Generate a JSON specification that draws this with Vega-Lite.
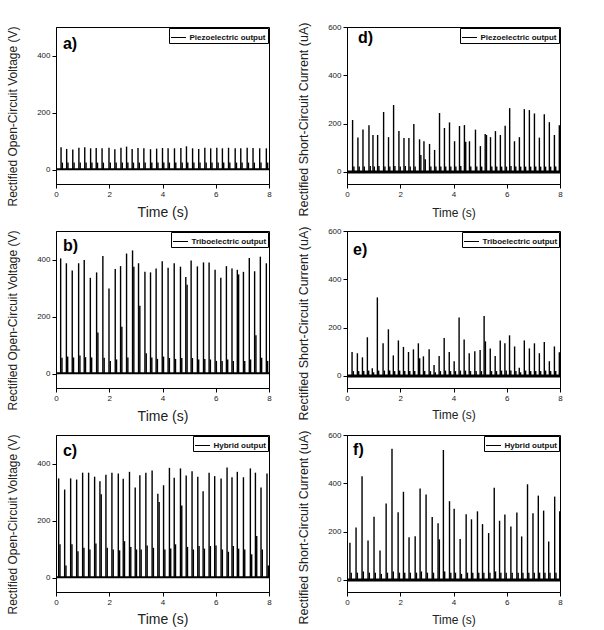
{
  "$schema": "https://vega.github.io/schema/vega-lite/v6.json",
  "background": "white",
  "padding": {"left": 5, "top": 21, "right": 5, "bottom": 0},
  "datasets": {
    "a": [
      {"t":0.19,"v":79,"s":25},{"t":0.40,"v":73,"s":25},{"t":0.63,"v":71,"s":25},{"t":0.86,"v":77,"s":25},{"t":1.08,"v":79,"s":25},{"t":1.30,"v":75,"s":25},{"t":1.51,"v":76,"s":25},{"t":1.73,"v":75,"s":25},{"t":1.99,"v":77,"s":25},{"t":2.21,"v":72,"s":25},{"t":2.44,"v":77,"s":25},{"t":2.65,"v":81,"s":25},{"t":2.86,"v":73,"s":25},{"t":3.08,"v":76,"s":25},{"t":3.30,"v":75,"s":25},{"t":3.55,"v":72,"s":25},{"t":3.78,"v":74,"s":25},{"t":4.00,"v":76,"s":25},{"t":4.21,"v":75,"s":25},{"t":4.45,"v":75,"s":25},{"t":4.69,"v":76,"s":25},{"t":4.90,"v":82,"s":25},{"t":5.13,"v":75,"s":25},{"t":5.36,"v":73,"s":25},{"t":5.59,"v":77,"s":25},{"t":5.81,"v":75,"s":25},{"t":6.04,"v":77,"s":25},{"t":6.25,"v":75,"s":25},{"t":6.48,"v":77,"s":25},{"t":6.73,"v":75,"s":25},{"t":6.94,"v":75,"s":25},{"t":7.18,"v":77,"s":25},{"t":7.40,"v":76,"s":25},{"t":7.65,"v":75,"s":25},{"t":7.90,"v":75,"s":25}
    ],
    "b": [
      {"t":0.175,"v":404,"s":56},{"t":0.39,"v":387,"s":60},{"t":0.61,"v":362,"s":57},{"t":0.85,"v":387,"s":64},{"t":1.06,"v":398,"s":58},{"t":1.29,"v":336,"s":57},{"t":1.525,"v":355,"s":144},{"t":1.76,"v":412,"s":56},{"t":1.99,"v":299,"s":45},{"t":2.225,"v":367,"s":50},{"t":2.425,"v":377,"s":165},{"t":2.65,"v":421,"s":57},{"t":2.875,"v":432,"s":375},{"t":3.10,"v":387,"s":238},{"t":3.34,"v":357,"s":72},{"t":3.55,"v":355,"s":57},{"t":3.76,"v":369,"s":52},{"t":3.99,"v":394,"s":60},{"t":4.21,"v":371,"s":55},{"t":4.44,"v":387,"s":52},{"t":4.675,"v":375,"s":55},{"t":4.875,"v":339,"s":312},{"t":5.075,"v":397,"s":55},{"t":5.31,"v":376,"s":50},{"t":5.54,"v":390,"s":52},{"t":5.75,"v":390,"s":50},{"t":5.975,"v":364,"s":45},{"t":6.19,"v":336,"s":45},{"t":6.40,"v":377,"s":50},{"t":6.61,"v":369,"s":45},{"t":6.81,"v":364,"s":348},{"t":7.04,"v":357,"s":45},{"t":7.26,"v":405,"s":50},{"t":7.46,"v":359,"s":135},{"t":7.675,"v":410,"s":56},{"t":7.90,"v":387,"s":45}
    ],
    "c": [
      {"t":0.10,"v":348,"s":117},{"t":0.325,"v":309,"s":43},{"t":0.55,"v":348,"s":117},{"t":0.775,"v":344,"s":93},{"t":1.00,"v":368,"s":105},{"t":1.225,"v":368,"s":99},{"t":1.45,"v":354,"s":120},{"t":1.65,"v":338,"s":292},{"t":1.875,"v":361,"s":105},{"t":2.10,"v":368,"s":99},{"t":2.34,"v":365,"s":96},{"t":2.525,"v":347,"s":128},{"t":2.76,"v":371,"s":108},{"t":2.975,"v":316,"s":99},{"t":3.15,"v":359,"s":99},{"t":3.375,"v":368,"s":113},{"t":3.61,"v":376,"s":105},{"t":3.825,"v":294,"s":265},{"t":4.04,"v":324,"s":99},{"t":4.26,"v":385,"s":102},{"t":4.44,"v":350,"s":117},{"t":4.675,"v":383,"s":253},{"t":4.89,"v":358,"s":108},{"t":5.11,"v":373,"s":99},{"t":5.325,"v":354,"s":111},{"t":5.525,"v":303,"s":102},{"t":5.75,"v":368,"s":111},{"t":5.96,"v":356,"s":113},{"t":6.20,"v":348,"s":99},{"t":6.425,"v":386,"s":91},{"t":6.61,"v":352,"s":111},{"t":6.81,"v":371,"s":102},{"t":7.04,"v":352,"s":99},{"t":7.30,"v":383,"s":82},{"t":7.49,"v":368,"s":146},{"t":7.70,"v":316,"s":99},{"t":7.925,"v":365,"s":43}
    ],
    "d": [
      {"t":0.21,"v":215,"s":22},{"t":0.41,"v":143,"s":22},{"t":0.60,"v":176,"s":22},{"t":0.825,"v":193,"s":25},{"t":0.975,"v":153,"s":22},{"t":1.15,"v":153,"s":25},{"t":1.375,"v":248,"s":22},{"t":1.56,"v":144,"s":22},{"t":1.75,"v":277,"s":25},{"t":1.95,"v":169,"s":22},{"t":2.14,"v":140,"s":25},{"t":2.325,"v":140,"s":22},{"t":2.51,"v":198,"s":22},{"t":2.725,"v":135,"s":70},{"t":2.89,"v":127,"s":52},{"t":3.10,"v":116,"s":22},{"t":3.29,"v":91,"s":22},{"t":3.475,"v":244,"s":22},{"t":3.66,"v":182,"s":22},{"t":3.85,"v":205,"s":22},{"t":4.04,"v":127,"s":22},{"t":4.225,"v":190,"s":25},{"t":4.41,"v":194,"s":125},{"t":4.60,"v":127,"s":22},{"t":4.825,"v":175,"s":22},{"t":5.01,"v":107,"s":22},{"t":5.19,"v":157,"s":153},{"t":5.39,"v":144,"s":22},{"t":5.575,"v":169,"s":22},{"t":5.76,"v":153,"s":22},{"t":5.94,"v":191,"s":22},{"t":6.11,"v":264,"s":25},{"t":6.29,"v":127,"s":22},{"t":6.475,"v":144,"s":22},{"t":6.66,"v":260,"s":22},{"t":6.85,"v":256,"s":22},{"t":7.04,"v":242,"s":22},{"t":7.225,"v":142,"s":22},{"t":7.41,"v":239,"s":22},{"t":7.60,"v":206,"s":22},{"t":7.79,"v":153,"s":22},{"t":7.975,"v":193,"s":22}
    ],
    "e": [
      {"t":0.19,"v":99,"s":20},{"t":0.39,"v":94,"s":20},{"t":0.58,"v":77,"s":20},{"t":0.765,"v":160,"s":22},{"t":0.95,"v":32,"s":15},{"t":1.14,"v":325,"s":22},{"t":1.355,"v":135,"s":22},{"t":1.555,"v":193,"s":22},{"t":1.74,"v":85,"s":20},{"t":1.93,"v":147,"s":22},{"t":2.12,"v":120,"s":20},{"t":2.31,"v":99,"s":20},{"t":2.495,"v":110,"s":20},{"t":2.68,"v":135,"s":73},{"t":2.87,"v":81,"s":20},{"t":3.085,"v":110,"s":20},{"t":3.27,"v":45,"s":15},{"t":3.46,"v":83,"s":20},{"t":3.65,"v":157,"s":22},{"t":3.84,"v":99,"s":20},{"t":4.025,"v":61,"s":20},{"t":4.21,"v":242,"s":22},{"t":4.40,"v":151,"s":22},{"t":4.59,"v":94,"s":20},{"t":4.80,"v":102,"s":20},{"t":5.00,"v":107,"s":20},{"t":5.15,"v":248,"s":143},{"t":5.38,"v":114,"s":20},{"t":5.565,"v":83,"s":20},{"t":5.755,"v":147,"s":22},{"t":5.93,"v":135,"s":22},{"t":6.105,"v":168,"s":22},{"t":6.295,"v":122,"s":20},{"t":6.47,"v":34,"s":15},{"t":6.66,"v":147,"s":22},{"t":6.85,"v":114,"s":20},{"t":7.04,"v":135,"s":20},{"t":7.225,"v":94,"s":20},{"t":7.41,"v":140,"s":22},{"t":7.60,"v":61,"s":20},{"t":7.79,"v":122,"s":20},{"t":7.975,"v":98,"s":52}
    ],
    "f": [
      {"t":0.11,"v":154,"s":30},{"t":0.34,"v":217,"s":30},{"t":0.565,"v":429,"s":35},{"t":0.79,"v":163,"s":30},{"t":1.015,"v":262,"s":30},{"t":1.24,"v":122,"s":25},{"t":1.47,"v":316,"s":30},{"t":1.69,"v":543,"s":35},{"t":1.92,"v":280,"s":30},{"t":2.12,"v":365,"s":30},{"t":2.33,"v":177,"s":30},{"t":2.56,"v":181,"s":30},{"t":2.745,"v":378,"s":35},{"t":2.97,"v":354,"s":30},{"t":3.20,"v":260,"s":30},{"t":3.42,"v":235,"s":168},{"t":3.62,"v":538,"s":35},{"t":3.85,"v":326,"s":30},{"t":4.025,"v":295,"s":30},{"t":4.25,"v":169,"s":25},{"t":4.475,"v":272,"s":30},{"t":4.675,"v":251,"s":30},{"t":4.90,"v":284,"s":30},{"t":5.09,"v":231,"s":30},{"t":5.32,"v":194,"s":30},{"t":5.53,"v":382,"s":35},{"t":5.73,"v":245,"s":30},{"t":5.93,"v":271,"s":30},{"t":6.155,"v":221,"s":30},{"t":6.38,"v":279,"s":30},{"t":6.56,"v":180,"s":30},{"t":6.78,"v":396,"s":30},{"t":6.985,"v":276,"s":30},{"t":7.185,"v":349,"s":30},{"t":7.385,"v":287,"s":30},{"t":7.575,"v":159,"s":30},{"t":7.80,"v":345,"s":30},{"t":7.99,"v":284,"s":30}
    ]
  },
  "columns": 2,
  "spacing": {"row": 47, "column": 78},
  "bounds": "flush",
  "resolve": {"scale": {"color": "independent", "x": "independent", "y": "independent"}, "legend": {"color": "independent"}},
  "concat": [
    {
      "width": 213, "height": 157,
      "layer": [
        {"data": {"name": "a"}, "mark": {"type": "rule", "strokeWidth": 1.4, "clip": true},
         "encoding": {
          "x": {"field": "t", "type": "quantitative", "title": "Time (s)", "scale": {"domain": [0, 8], "nice": false}, "axis": {"values": [0,1,2,3,4,5,6,7,8], "labelOverlap": false, "labelSeparation": -40, "labelExpr": "datum.value % 2 == 0 ? datum.label : ''", "tickSize": {"condition": {"test": "datum.value % 2 == 0", "value": 4}, "value": 2}, "titleFontSize": 14, "titleY": 28, "titleBaseline": "middle"}},
          "y": {"field": "v", "type": "quantitative", "title": "Rectified Open-Circuit Voltage (V)", "scale": {"domain": [-50, 500], "nice": false, "zero": false}, "axis": {"values": [0,50,100,150,200,250,300,350,400,450,500], "labelOverlap": false, "labelSeparation": -40, "labelExpr": "datum.value % 100 == 0 ? datum.label : ''", "tickSize": {"condition": {"test": "datum.value % 100 == 0", "value": 4}, "value": 2}, "titleFontSize": 12, "titleX": -44, "titleY": 89, "titleBaseline": "middle"}},
          "y2": {"datum": 0},
          "color": {"datum": "Piezoelectric output", "type": "nominal", "scale": {"range": ["black"]}, "legend": {"title": null}}
         }},
        {"data": {"values": [{}]}, "mark": {"type": "rule", "color": "black", "strokeWidth": 2, "clip": true}, "encoding": {"x": {"datum": 0, "type": "quantitative"}, "x2": {"datum": 8}, "y": {"datum": 2, "type": "quantitative"}}},
        {"data": {"name": "a"}, "mark": {"type": "rule", "strokeWidth": 1.4, "xOffset": 1.3, "color": "black", "clip": true}, "encoding": {"x": {"field": "t", "type": "quantitative"}, "y": {"field": "s", "type": "quantitative"}, "y2": {"datum": 0}}},
        {"data": {"values": [{}]}, "mark": {"type": "text", "text": "a)", "fontSize": 16, "fontWeight": "bold", "align": "left", "baseline": "middle", "color": "black"}, "encoding": {"x": {"datum": 0.26, "type": "quantitative"}, "y": {"datum": 440, "type": "quantitative"}}}
      ]
    },
    {
      "width": 213, "height": 157,
      "layer": [
        {"data": {"name": "d"}, "mark": {"type": "rule", "strokeWidth": 1.4, "clip": true},
         "encoding": {
          "x": {"field": "t", "type": "quantitative", "title": "Time (s)", "scale": {"domain": [0, 8], "nice": false}, "axis": {"values": [0,1,2,3,4,5,6,7,8], "labelOverlap": false, "labelSeparation": -40, "labelExpr": "datum.value % 2 == 0 ? datum.label : ''", "tickSize": {"condition": {"test": "datum.value % 2 == 0", "value": 4}, "value": 2}, "titleFontSize": 12, "titleY": 28, "titleBaseline": "middle"}},
          "y": {"field": "v", "type": "quantitative", "title": "Rectified Short-Circuit Current (uA)", "scale": {"domain": [-50, 600], "nice": false, "zero": false}, "axis": {"values": [0,50,100,150,200,250,300,350,400,450,500,550,600], "labelOverlap": false, "labelSeparation": -40, "labelExpr": "datum.value % 100 == 0 ? datum.label : ''", "tickSize": {"condition": {"test": "datum.value % 100 == 0", "value": 4}, "value": 2}, "titleFontSize": 12.5, "titleX": -44, "titleY": 92, "titleBaseline": "middle"}},
          "y2": {"datum": 0},
          "color": {"datum": "Piezoelectric output", "type": "nominal", "scale": {"range": ["black"]}, "legend": {"title": null}}
         }},
        {"data": {"values": [{}]}, "mark": {"type": "rule", "color": "black", "strokeWidth": 3, "clip": true}, "encoding": {"x": {"datum": 0, "type": "quantitative"}, "x2": {"datum": 8}, "y": {"datum": 0, "type": "quantitative"}}},
        {"data": {"name": "d"}, "mark": {"type": "rule", "strokeWidth": 1.4, "xOffset": 1.3, "color": "black", "clip": true}, "encoding": {"x": {"field": "t", "type": "quantitative"}, "y": {"field": "s", "type": "quantitative"}, "y2": {"datum": 0}}},
        {"data": {"values": [{}]}, "mark": {"type": "text", "text": "d)", "fontSize": 16, "fontWeight": "bold", "align": "left", "baseline": "middle", "color": "black"}, "encoding": {"x": {"datum": 0.41, "type": "quantitative"}, "y": {"datum": 554, "type": "quantitative"}}}
      ]
    },
    {
      "width": 213, "height": 157,
      "layer": [
        {"data": {"name": "b"}, "mark": {"type": "rule", "strokeWidth": 1.4, "clip": true},
         "encoding": {
          "x": {"field": "t", "type": "quantitative", "title": "Time (s)", "scale": {"domain": [0, 8], "nice": false}, "axis": {"values": [0,1,2,3,4,5,6,7,8], "labelOverlap": false, "labelSeparation": -40, "labelExpr": "datum.value % 2 == 0 ? datum.label : ''", "tickSize": {"condition": {"test": "datum.value % 2 == 0", "value": 4}, "value": 2}, "titleFontSize": 14, "titleY": 28, "titleBaseline": "middle"}},
          "y": {"field": "v", "type": "quantitative", "title": "Rectified Open-Circuit Voltage (V)", "scale": {"domain": [-50, 500], "nice": false, "zero": false}, "axis": {"values": [0,50,100,150,200,250,300,350,400,450,500], "labelOverlap": false, "labelSeparation": -40, "labelExpr": "datum.value % 100 == 0 ? datum.label : ''", "tickSize": {"condition": {"test": "datum.value % 100 == 0", "value": 4}, "value": 2}, "titleFontSize": 12, "titleX": -44, "titleY": 89, "titleBaseline": "middle"}},
          "y2": {"datum": 0},
          "color": {"datum": "Triboelectric output", "type": "nominal", "scale": {"range": ["black"]}, "legend": {"title": null}}
         }},
        {"data": {"values": [{}]}, "mark": {"type": "rule", "color": "black", "strokeWidth": 2, "clip": true}, "encoding": {"x": {"datum": 0, "type": "quantitative"}, "x2": {"datum": 8}, "y": {"datum": 2, "type": "quantitative"}}},
        {"data": {"name": "b"}, "mark": {"type": "rule", "strokeWidth": 1.4, "xOffset": 1.3, "color": "black", "clip": true}, "encoding": {"x": {"field": "t", "type": "quantitative"}, "y": {"field": "s", "type": "quantitative"}, "y2": {"datum": 0}}},
        {"data": {"values": [{}]}, "mark": {"type": "text", "text": "b)", "fontSize": 16, "fontWeight": "bold", "align": "left", "baseline": "middle", "color": "black"}, "encoding": {"x": {"datum": 0.26, "type": "quantitative"}, "y": {"datum": 447, "type": "quantitative"}}}
      ]
    },
    {
      "width": 213, "height": 157,
      "layer": [
        {"data": {"name": "e"}, "mark": {"type": "rule", "strokeWidth": 1.4, "clip": true},
         "encoding": {
          "x": {"field": "t", "type": "quantitative", "title": "Time (s)", "scale": {"domain": [0, 8], "nice": false}, "axis": {"values": [0,1,2,3,4,5,6,7,8], "labelOverlap": false, "labelSeparation": -40, "labelExpr": "datum.value % 2 == 0 ? datum.label : ''", "tickSize": {"condition": {"test": "datum.value % 2 == 0", "value": 4}, "value": 2}, "titleFontSize": 12, "titleY": 26, "titleBaseline": "middle"}},
          "y": {"field": "v", "type": "quantitative", "title": "Rectified Short-Circuit Current (uA)", "scale": {"domain": [-50, 600], "nice": false, "zero": false}, "axis": {"values": [0,50,100,150,200,250,300,350,400,450,500,550,600], "labelOverlap": false, "labelSeparation": -40, "labelExpr": "datum.value % 100 == 0 ? datum.label : ''", "tickSize": {"condition": {"test": "datum.value % 100 == 0", "value": 4}, "value": 2}, "titleFontSize": 12.5, "titleX": -44, "titleY": 92, "titleBaseline": "middle"}},
          "y2": {"datum": 0},
          "color": {"datum": "Triboelectric output", "type": "nominal", "scale": {"range": ["black"]}, "legend": {"title": null}}
         }},
        {"data": {"values": [{}]}, "mark": {"type": "rule", "color": "black", "strokeWidth": 3, "clip": true}, "encoding": {"x": {"datum": 0, "type": "quantitative"}, "x2": {"datum": 8}, "y": {"datum": 0, "type": "quantitative"}}},
        {"data": {"name": "e"}, "mark": {"type": "rule", "strokeWidth": 1.4, "xOffset": 1.3, "color": "black", "clip": true}, "encoding": {"x": {"field": "t", "type": "quantitative"}, "y": {"field": "s", "type": "quantitative"}, "y2": {"datum": 0}}},
        {"data": {"values": [{}]}, "mark": {"type": "text", "text": "e)", "fontSize": 16, "fontWeight": "bold", "align": "left", "baseline": "middle", "color": "black"}, "encoding": {"x": {"datum": 0.23, "type": "quantitative"}, "y": {"datum": 522, "type": "quantitative"}}}
      ]
    },
    {
      "width": 213, "height": 157,
      "layer": [
        {"data": {"name": "c"}, "mark": {"type": "rule", "strokeWidth": 1.4, "clip": true},
         "encoding": {
          "x": {"field": "t", "type": "quantitative", "title": "Time (s)", "scale": {"domain": [0, 8], "nice": false}, "axis": {"values": [0,1,2,3,4,5,6,7,8], "labelOverlap": false, "labelSeparation": -40, "labelExpr": "datum.value % 2 == 0 ? datum.label : ''", "tickSize": {"condition": {"test": "datum.value % 2 == 0", "value": 4}, "value": 2}, "titleFontSize": 14, "titleY": 27, "titleBaseline": "middle"}},
          "y": {"field": "v", "type": "quantitative", "title": "Rectified Open-Circuit Voltage (V)", "scale": {"domain": [-50, 500], "nice": false, "zero": false}, "axis": {"values": [0,50,100,150,200,250,300,350,400,450,500], "labelOverlap": false, "labelSeparation": -40, "labelExpr": "datum.value % 100 == 0 ? datum.label : ''", "tickSize": {"condition": {"test": "datum.value % 100 == 0", "value": 4}, "value": 2}, "titleFontSize": 12, "titleX": -44, "titleY": 89, "titleBaseline": "middle"}},
          "y2": {"datum": 0},
          "color": {"datum": "Hybrid output", "type": "nominal", "scale": {"range": ["black"]}, "legend": {"title": null}}
         }},
        {"data": {"values": [{}]}, "mark": {"type": "rule", "color": "black", "strokeWidth": 2, "clip": true}, "encoding": {"x": {"datum": 0, "type": "quantitative"}, "x2": {"datum": 8}, "y": {"datum": 2, "type": "quantitative"}}},
        {"data": {"name": "c"}, "mark": {"type": "rule", "strokeWidth": 1.4, "xOffset": 1.3, "color": "black", "clip": true}, "encoding": {"x": {"field": "t", "type": "quantitative"}, "y": {"field": "s", "type": "quantitative"}, "y2": {"datum": 0}}},
        {"data": {"values": [{}]}, "mark": {"type": "text", "text": "c)", "fontSize": 16, "fontWeight": "bold", "align": "left", "baseline": "middle", "color": "black"}, "encoding": {"x": {"datum": 0.26, "type": "quantitative"}, "y": {"datum": 444, "type": "quantitative"}}}
      ]
    },
    {
      "width": 213, "height": 157,
      "layer": [
        {"data": {"name": "f"}, "mark": {"type": "rule", "strokeWidth": 1.4, "clip": true},
         "encoding": {
          "x": {"field": "t", "type": "quantitative", "title": "Time (s)", "scale": {"domain": [0, 8], "nice": false}, "axis": {"values": [0,1,2,3,4,5,6,7,8], "labelOverlap": false, "labelSeparation": -40, "labelExpr": "datum.value % 2 == 0 ? datum.label : ''", "tickSize": {"condition": {"test": "datum.value % 2 == 0", "value": 4}, "value": 2}, "titleFontSize": 12, "titleY": 27, "titleBaseline": "middle"}},
          "y": {"field": "v", "type": "quantitative", "title": "Rectified Short-Circuit Current (uA)", "scale": {"domain": [-50, 600], "nice": false, "zero": false}, "axis": {"values": [0,50,100,150,200,250,300,350,400,450,500,550,600], "labelOverlap": false, "labelSeparation": -40, "labelExpr": "datum.value % 100 == 0 ? datum.label : ''", "tickSize": {"condition": {"test": "datum.value % 100 == 0", "value": 4}, "value": 2}, "titleFontSize": 12.5, "titleX": -44, "titleY": 92, "titleBaseline": "middle"}},
          "y2": {"datum": 0},
          "color": {"datum": "Hybrid output", "type": "nominal", "scale": {"range": ["black"]}, "legend": {"title": null}}
         }},
        {"data": {"values": [{}]}, "mark": {"type": "rule", "color": "black", "strokeWidth": 3, "clip": true}, "encoding": {"x": {"datum": 0, "type": "quantitative"}, "x2": {"datum": 8}, "y": {"datum": 0, "type": "quantitative"}}},
        {"data": {"name": "f"}, "mark": {"type": "rule", "strokeWidth": 1.4, "xOffset": 1.3, "color": "black", "clip": true}, "encoding": {"x": {"field": "t", "type": "quantitative"}, "y": {"field": "s", "type": "quantitative"}, "y2": {"datum": 0}}},
        {"data": {"values": [{}]}, "mark": {"type": "text", "text": "f)", "fontSize": 16, "fontWeight": "bold", "align": "left", "baseline": "middle", "color": "black"}, "encoding": {"x": {"datum": 0.23, "type": "quantitative"}, "y": {"datum": 538, "type": "quantitative"}}}
      ]
    }
  ],
  "config": {
    "font": "Liberation Sans",
    "view": {"stroke": "black", "strokeWidth": 1},
    "axis": {"grid": false, "domainColor": "black", "tickColor": "black", "labelFontSize": 8, "labelColor": "#222", "labelPadding": 2, "labelOverlap": false, "labelSeparation": -40, "titleFontWeight": "normal", "titleColor": "#222", "labelFlush": false},
    "legend": {"orient": "top-right", "offset": 1, "padding": 1.5, "strokeColor": "black", "fillColor": "white", "symbolType": "stroke", "symbolSize": 225, "symbolStrokeWidth": 1, "symbolStrokeColor": "black", "labelFontSize": 8, "labelFontWeight": "bold", "labelColor": "#111", "labelLimit": 200, "labelOffset": 3}
  }
}
